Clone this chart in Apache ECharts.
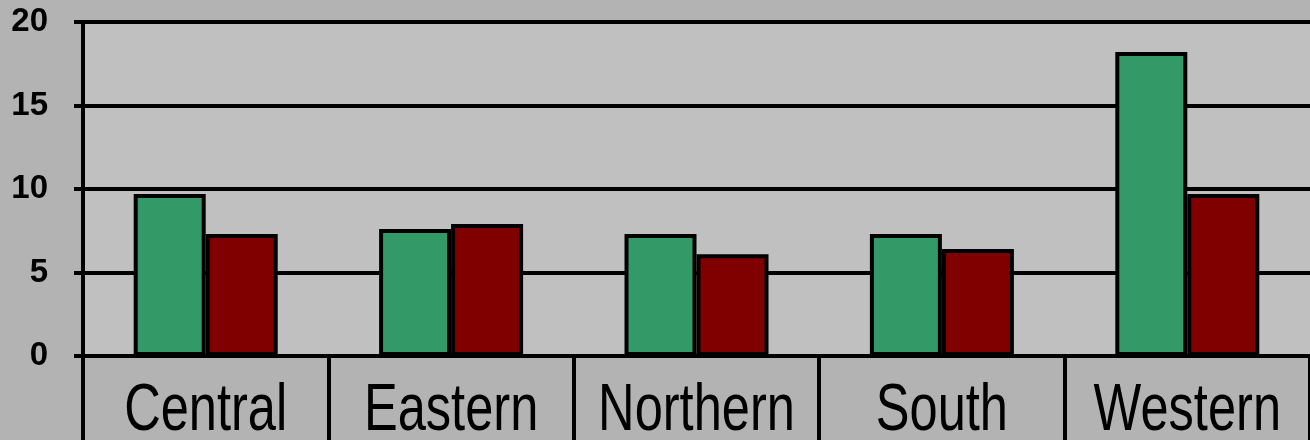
<!DOCTYPE html>
<html>
<head>
<meta charset="utf-8">
<title>Regional comparison</title>
<script src="https://cdn.jsdelivr.net/npm/echarts@6/dist/echarts.min.js"></script>
<style>
  html, body { margin: 0; padding: 0; background: #b3b3b3; }
  #chart { width: 1310px; height: 440px; }
</style>
</head>
<body>
<div id="chart"></div>
<script>
// Regions along the category axis
const regions = ['Central', 'Eastern', 'Northern', 'South', 'Western'];
// Two series per region
const seriesGreen = [9.7, 7.6, 7.3, 7.3, 18.2];
const seriesRed = [7.3, 7.9, 6.1, 6.4, 9.7];
// Value axis range
const yMin = 0, yMax = 20, yStep = 5;

const chart = echarts.init(document.getElementById('chart'), null, { renderer: 'canvas' });

const barStyle = (color) => ({
  color: color,
  borderColor: '#000',
  borderWidth: 4
});

chart.setOption({
  backgroundColor: '#b3b3b3',
  animation: false,
  grid: {
    left: 83,
    top: 22,
    width: 1231,
    bottom: 84,
    show: true,
    backgroundColor: '#c0c0c0',
    borderWidth: 0
  },
  xAxis: {
    type: 'category',
    data: regions,
    axisLine: { show: true, lineStyle: { color: '#000', width: 4 } },
    axisTick: { show: true, length: 90, lineStyle: { color: '#000', width: 4 } },
    // category names are drawn below as condensed text
    axisLabel: { show: false, interval: 0 }
  },
  yAxis: {
    type: 'value',
    min: yMin,
    max: yMax,
    interval: yStep,
    axisLine: { show: true, lineStyle: { color: '#000', width: 4 } },
    axisTick: { show: true, length: 9, lineStyle: { color: '#000', width: 4 } },
    splitLine: { show: true, lineStyle: { color: '#000', width: 4 } },
    axisLabel: {
      color: '#000',
      fontFamily: 'Liberation Sans',
      fontWeight: 'bold',
      fontSize: 33,
      margin: 35
    }
  },
  series: [
    {
      type: 'bar',
      data: seriesGreen,
      barWidth: 72,
      barGap: '0%',
      itemStyle: barStyle('#339966')
    },
    {
      type: 'bar',
      data: seriesRed,
      barWidth: 72,
      barGap: '0%',
      itemStyle: barStyle('#800000')
    }
  ]
});

// Horizontally condensed category names, centred on each category via the axis scale
const labelY = chart.convertToPixel({ yAxisIndex: 0 }, yMin) + 56;
chart.setOption({
  graphic: regions.map((name) => ({
    type: 'text',
    x: chart.convertToPixel({ xAxisIndex: 0 }, name),
    y: labelY,
    scaleX: 0.755,
    silent: true,
    style: {
      text: name,
      fill: '#000',
      font: '67px "Liberation Sans", Arial, sans-serif',
      textAlign: 'center',
      textVerticalAlign: 'middle'
    }
  }))
});
</script>
</body>
</html>
